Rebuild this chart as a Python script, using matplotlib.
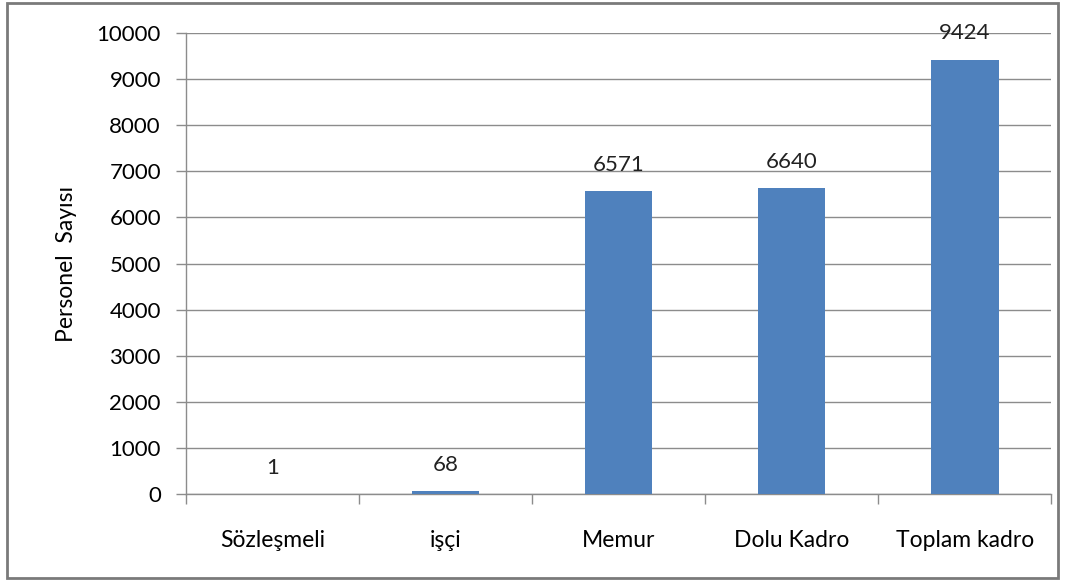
import matplotlib.pyplot as plt
from matplotlib.patches import Rectangle
import numpy as np

plt.rcParams['font.family'] = ['Lato', 'DejaVu Sans']

# chart data
categories = ['Sözleşmeli', 'işçi', 'Memur', 'Dolu Kadro', 'Toplam kadro']
counts = [1, 68, 6571, 6640, 9424]
y_ticks = [0, 1000, 2000, 3000, 4000, 5000, 6000, 7000, 8000, 9000, 10000]

bar_color = '#4F81BD'
grid_color = '#8C8C8C'

fig = plt.figure(figsize=(10.75, 5.84), dpi=100)
ax = fig.add_axes([0.173, 0.154, 0.805, 0.7895])

x = np.arange(len(categories))
ax.bar(x, counts, width=0.39, color=bar_color, zorder=3)

# value labels above the bars
for xi, v in zip(x, counts):
    ax.annotate(str(v), (xi, v), xytext=(0, 19), textcoords='offset points',
                ha='center', va='center', fontsize=16, color='#222222', zorder=4)

ax.set_xlim(-0.5, len(categories) - 0.5)
ax.set_ylim(0, 10000)
ax.set_yticks(y_ticks)
ax.yaxis.grid(True, color=grid_color, linewidth=1)
ax.set_axisbelow(True)

ax.set_xticks(x)
ax.set_xticklabels(categories)
ax.set_xticks(np.arange(-0.5, len(categories)), minor=True)
ax.tick_params(axis='x', which='major', length=0, pad=26, labelsize=16.5)
ax.tick_params(axis='x', which='minor', length=7, direction='out', color=grid_color, width=1)
ax.tick_params(axis='y', length=7, direction='out', color=grid_color, width=1,
               labelsize=16, pad=11)

for s in ['top', 'right']:
    ax.spines[s].set_visible(False)
for s in ['left', 'bottom']:
    ax.spines[s].set_color(grid_color)
    ax.spines[s].set_linewidth(1)

ax.set_ylabel('Personel  Sayısı', fontsize=16.5, labelpad=14)

# outer chart border
fig.patches.append(Rectangle((7 / 1075, 6 / 584), 1051 / 1075, 575 / 584,
                             transform=fig.transFigure, fill=False,
                             edgecolor='#7A7A7A', linewidth=2))

plt.savefig('out.png', dpi=100)
